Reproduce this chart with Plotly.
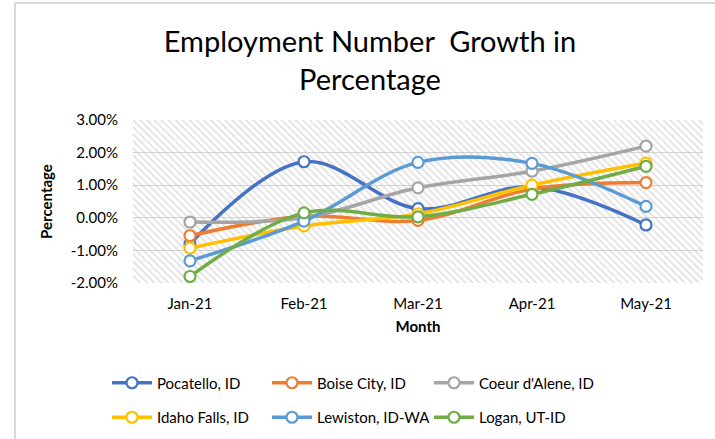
import plotly.graph_objects as go

months = ["Jan-21", "Feb-21", "Mar-21", "Apr-21", "May-21"]
pocatello = [-0.0080, 0.0172, 0.0028, 0.0095, -0.0022]
boise = [-0.0055, 0.0005, -0.0008, 0.0088, 0.0108]
coeur = [-0.0013, 0.0000, 0.0092, 0.0143, 0.0220]
idaho_falls = [-0.0093, -0.0025, 0.0012, 0.0100, 0.0168]
lewiston = [-0.0132, -0.0010, 0.0170, 0.0167, 0.0035]
logan = [-0.0180, 0.0015, 0.0003, 0.0072, 0.0158]

y_ticks = [-0.02, -0.01, 0.0, 0.01, 0.02, 0.03]
y_ticktext = ["-2.00%", "-1.00%", "0.00%", "1.00%", "2.00%", "3.00%"]

series = [
    ("Pocatello, ID", pocatello, "#4472C4", "legend"),
    ("Boise City, ID", boise, "#ED7D31", "legend2"),
    ("Coeur d'Alene, ID", coeur, "#A5A5A5", "legend3"),
    ("Idaho Falls, ID", idaho_falls, "#FFC000", "legend"),
    ("Lewiston, ID-WA", lewiston, "#5B9BD5", "legend2"),
    ("Logan, UT-ID", logan, "#70AD47", "legend3"),
]

FONT = "Lato, 'Liberation Sans', sans-serif"
x_idx = list(range(len(months)))
x_lo, x_hi = -0.5, len(months) - 0.5
y_lo, y_hi = y_ticks[0], y_ticks[-1]

fig = go.Figure()

# hatched plot-area background (decoration)
fig.add_trace(go.Scatter(
    x=[x_lo, x_hi, x_hi, x_lo, x_lo], y=[y_lo, y_lo, y_hi, y_hi, y_lo],
    mode="none", fill="toself", fillcolor="rgba(0,0,0,0)",
    fillpattern=dict(shape="\\", fgcolor="#c8c8c8", bgcolor="rgba(0,0,0,0)",
                     size=5, solidity=0.4),
    showlegend=False, hoverinfo="skip"))

for name, vals, color, lg in series:
    fig.add_trace(go.Scatter(
        x=x_idx, y=vals, name=name, mode="lines+markers",
        line=dict(color=color, width=3.5, shape="spline"),
        marker=dict(symbol="circle", size=11, color="white",
                    line=dict(color=color, width=2.2)),
        legend=lg, legendgroup=name))

L, R, T, B = 133, 12, 120, 156
W, H = 715, 439
ph = H - T - B
pw = W - L - R

def px_x(px):
    return (px - L) / pw

def px_y(py):
    return (H - B - py) / ph

leg_common = dict(orientation="v", yanchor="middle", y=px_y(400), xanchor="left",
                  font=dict(size=15), itemwidth=40, tracegroupgap=12,
                  bgcolor="rgba(0,0,0,0)")

fig.update_layout(
    width=W, height=H,
    margin=dict(l=L, r=R, t=T, b=B, autoexpand=False),
    paper_bgcolor="white", plot_bgcolor="white",
    font=dict(family=FONT, color="#000000"),
    title=dict(text="Employment Number&nbsp; Growth in<br>Percentage",
               x=370 / W, xref="container", xanchor="center",
               y=1 - 52 / H, yref="container", yanchor="middle",
               font=dict(size=29, color="#000000", family=FONT)),
    xaxis=dict(range=[x_lo, x_hi], tickvals=x_idx, ticktext=months,
               showgrid=False, zeroline=False, showline=False, ticks="",
               automargin=False, ticklabelstandoff=10,
               tickfont=dict(size=15), title=dict(text="<b>Month</b>", font=dict(size=15), standoff=10)),
    yaxis=dict(range=[y_lo, y_hi], tickvals=y_ticks, ticktext=y_ticktext,
               showgrid=True, gridcolor="#d4d4d4", gridwidth=1.3,
               zeroline=False, showline=False, ticks="",
               automargin=False, ticklabelstandoff=14,
               tickfont=dict(size=15), title=dict(text="<b>Percentage</b>", font=dict(size=15), standoff=14)),
    legend=dict(x=px_x(107), **leg_common),
    legend2=dict(x=px_x(267), **leg_common),
    legend3=dict(x=px_x(429), **leg_common),
    shapes=[dict(type="rect", xref="paper", yref="paper",
                 x0=px_x(15), x1=px_x(760), y0=px_y(480), y1=px_y(3),
                 line=dict(color="#d9d9d9", width=2), layer="below")],
)

fig.write_html("out.html", config={"displayModeBar": False},
               post_script="document.body.style.margin='0';")
